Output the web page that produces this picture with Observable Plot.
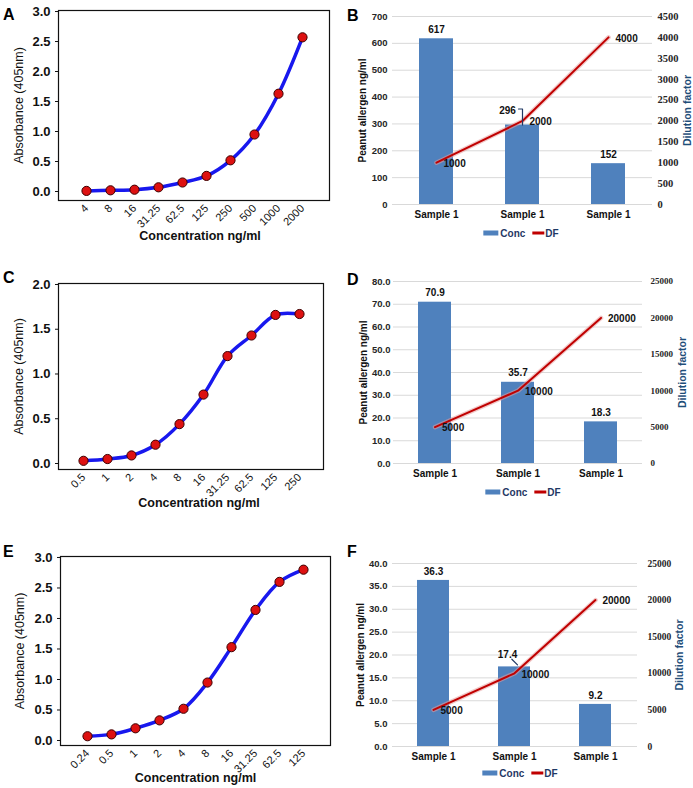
<!DOCTYPE html>
<html><head><meta charset="utf-8">
<script src="https://cdn.jsdelivr.net/npm/d3@7"></script>
<script src="https://cdn.jsdelivr.net/npm/@observablehq/plot@0.6"></script>
<style>
body{margin:0;background:#fff}
#fig{position:relative;width:693px;height:788px;overflow:hidden;background:#fff;font-family:'Liberation Sans',Arial,sans-serif}
#fig svg{position:absolute;overflow:visible}
.tag{position:absolute;font-weight:bold;font-size:16px;line-height:16px;color:#000}
.legend{position:absolute;transform:translate(-50%,-50%);display:flex;align-items:center;font-weight:bold;font-size:10px;color:#1f3864;white-space:nowrap}
.legend .sw{display:inline-block;width:15px;height:5px;background:#4f81bd;margin-right:2px}
.legend .ln{display:inline-block;width:12px;height:2.5px;background:#c00000;margin-left:7px;margin-right:1px}
</style></head><body><div id="fig"></div>
<script>
// ---------- data ----------
const concA = ["4","8","16","31.25","62.5","125","250","500","1000","2000"];
const absA  = [0.01,0.02,0.03,0.07,0.15,0.26,0.52,0.95,1.63,2.57];
const concC = ["0.5","1","2","4","8","16","31.25","62.5","125","250"];
const absC  = [0.03,0.05,0.09,0.21,0.44,0.77,1.20,1.43,1.66,1.67];
const concE = ["0.24","0.5","1","2","4","8","16","31.25","62.5","125"];
const absE  = [0.07,0.10,0.20,0.33,0.52,0.95,1.53,2.14,2.60,2.80];
const yTicksA = [0,0.5,1,1.5,2,2.5,3];
const yTicksC = [0,0.5,1,1.5,2];
const yTicksE = [0,0.5,1,1.5,2,2.5,3];

const samples = ["Sample 1","Sample 1","Sample 1"];
const concB = [617,296,152];
const dfB   = [1000,2000,4000];
const concD = [70.9,35.7,18.3];
const dfD   = [5000,10000,20000];
const concF = [36.3,17.4,9.2];
const dfF   = [5000,10000,20000];
const leftTicksB  = [0,100,200,300,400,500,600,700];
const rightTicksB = [0,500,1000,1500,2000,2500,3000,3500,4000,4500];
const leftTicksD  = [0,10,20,30,40,50,60,70,80];
const rightTicksD = [0,5000,10000,15000,20000,25000];
const leftTicksF  = [0,5,10,15,20,25,30,35,40];
const rightTicksF = [0,5000,10000,15000,20000,25000];

// ---------- helpers ----------
const fig = document.getElementById("fig");
const SANS = "'Liberation Sans', Arial, Helvetica, sans-serif";
const SERIF = "'Liberation Serif', 'Times New Roman', serif";

function place(el, left, top){ el.style.left = left+"px"; el.style.top = top+"px"; fig.appendChild(el); }
function tag(t, left, top){ const d=document.createElement("div"); d.className="tag"; d.textContent=t; place(d,left,top); }
function legend(cx, cy){
  const d=document.createElement("div"); d.className="legend";
  d.innerHTML='<span class="sw"></span><span>Conc</span><span class="ln"></span><span>DF</span>';
  place(d,cx,cy);
}

function curvePanel(o){
  const data = o.labels.map((c,i)=>({c, v:o.values[i]}));
  const svg = Plot.plot({
    width:o.width, height:o.height,
    marginLeft:o.mL, marginRight:o.mR, marginTop:o.mT, marginBottom:o.mB,
    style:{fontFamily:SANS, fontSize:"11px", color:"#111", background:"transparent"},
    x:{type:"point", domain:o.labels, padding:1},
    y:{domain:o.yDomain},
    marks:[
      Plot.axisY({ticks:o.yTicks, tickFormat:d3.format(".1f"), tickSize:3, tickPadding:5, fontSize:13, fontWeight:"bold",
        label:"Absorbance (405nm)", labelAnchor:"center", labelArrow:"none", labelOffset:o.yLabOff}),
      Plot.axisX({tickRotate:-45, tickSize:0, tickPadding:6, fontSize:11,
        label:"Concentration ng/ml", labelAnchor:"center", labelArrow:"none", labelOffset:o.xLabOff}),
      Plot.frame({stroke:"#111", strokeWidth:1.2}),
      Plot.line(data,{x:"c", y:"v", stroke:"#1818ee", strokeWidth:3.5, curve:"catmull-rom"}),
      Plot.dot(data,{x:"c", y:"v", r:4.6, fill:"#dd1111", stroke:"#3d0000", strokeWidth:1})
    ]
  });
  d3.select(svg).selectAll('g[aria-label="y-axis label"] text').attr("font-size",12.5).attr("font-weight","normal");
  d3.select(svg).selectAll('g[aria-label="x-axis label"] text').attr("font-size",12.5).attr("font-weight","bold").attr("dx",o.xLabDx);
  place(svg, o.left, o.top);
}

function barPanel(o){
  const yMax = o.leftTicks[o.leftTicks.length-1];
  const rMax = o.rightTicks[o.rightTicks.length-1];
  const k = yMax / rMax;
  const data = o.conc.map((v,i)=>({i, v, d:o.df[i]*k, dv:o.df[i]}));
  const plain = data.filter(d=>!(d.i in o.nudge));
  const marks = [
    Plot.gridY({ticks:o.leftTicks, stroke:"#d9d9d9", strokeOpacity:1, strokeWidth:1}),
    Plot.axisY({ticks:o.leftTicks, tickFormat:o.fmt, tickSize:0, tickPadding:o.lPad, fontSize:9.5, fontWeight:"bold", fill:"#262626",
      label:"Peanut allergen ng/ml", labelAnchor:"center", labelArrow:"none", labelOffset:o.lOff}),
    Plot.axisY({anchor:"right", ticks:o.rightTicks.map(t=>t*k), tickFormat:t=>String(Math.round(t/k)), tickSize:0, tickPadding:o.rPad,
      fontSize:o.rFont, fontWeight:"bold", fontFamily:SERIF, fill:"#262626",
      label:"Dilution factor", labelAnchor:"center", labelArrow:"none", labelOffset:o.rOff}),
    Plot.axisX({tickFormat:i=>samples[i], tickSize:0, tickPadding:o.xPad, fontSize:10, fontWeight:"bold", fill:"#111", label:null}),
    Plot.barY(data,{x:"i", y:"v", fill:"#4f81bd"}),
    Plot.line(data,{x:"i", y:"d", stroke:"#e59a9a", strokeWidth:4.5, strokeOpacity:0.55}),
    Plot.line(data,{x:"i", y:"d", stroke:"#c00000", strokeWidth:2}),
    Plot.text(plain,{x:"i", y:"v", text:d=>o.fmt(d.v), dy:-9, fontSize:10, fontWeight:"bold", fill:"#111"}),
    Plot.text(data,{x:"i", y:"d", text:d=>String(d.dv), textAnchor:"start", dx:7, dy:1, fontSize:10, fontWeight:"bold", fill:"#111"})
  ];
  for (const key of Object.keys(o.nudge)){
    const n = o.nudge[key];
    const sel = data.filter(d=>d.i===+key);
    marks.push(Plot.text(sel,{x:"i", y:"v", text:d=>o.fmt(d.v), dx:n.dx, dy:n.dy, fontSize:10, fontWeight:"bold", fill:"#111"}));
    marks.push(Plot.vector(sel,{x:"i", y:"v", length:n.len, rotate:n.rot, anchor:"start", dx:n.ldx||0, dy:n.ldy||0,
      shape:{draw(ctx,l){ ctx.moveTo(0,0); ctx.lineTo(0,-l); if(n.hook) ctx.lineTo(-n.hook,-l); }},
      stroke:"#1f3864", strokeWidth:1.2, fill:"none"}));
  }
  const svg = Plot.plot({
    width:o.width, height:o.height,
    marginLeft:o.mL, marginRight:o.mR, marginTop:o.mT, marginBottom:o.mB,
    style:{fontFamily:SANS, fontSize:"10px", color:"#111", background:"transparent"},
    x:{type:"band", domain:d3.range(o.conc.length), paddingInner:0.6, paddingOuter:0.3},
    y:{domain:[0,yMax]},
    marks
  });
  const labs = d3.select(svg).selectAll('g[aria-label="y-axis label"] text').nodes();
  if (labs[0]) d3.select(labs[0]).attr("font-size",10).attr("font-weight","bold").attr("fill","#111");
  if (labs[1]) d3.select(labs[1]).attr("font-size",10.5).attr("font-weight","bold").attr("font-family",SANS).attr("fill","#1f4e79");
  place(svg, o.left, o.top);
}

// ---------- panels ----------
curvePanel({left:0, top:0, width:340, height:248, mL:58, mR:11, mT:10, mB:48,
  labels:concA, values:absA, yTicks:yTicksA, yDomain:[-0.15,3.017], yLabOff:44, xLabOff:39, xLabDx:6});
curvePanel({left:0, top:270, width:340, height:242, mL:58, mR:17, mT:13, mB:43,
  labels:concC, values:absC, yTicks:yTicksC, yDomain:[-0.067,2.011], yLabOff:44, xLabOff:37, xLabDx:8});
curvePanel({left:0, top:545, width:340, height:243, mL:60, mR:10, mT:11, mB:43,
  labels:concE, values:absE, yTicks:yTicksE, yDomain:[-0.082,3.016], yLabOff:45, xLabOff:36, xLabDx:0});

barPanel({left:340, top:0, width:353, height:225, mL:52, mR:41, mT:16, mB:21,
  conc:concB, df:dfB, leftTicks:leftTicksB, rightTicks:rightTicksB, fmt:d=>String(d),
  lPad:5, rPad:5, rFont:10.5, lOff:34, rOff:38, xPad:6,
  nudge:{1:{dx:-15, dy:-14.5, len:16, rot:0, hook:4}}});
barPanel({left:340, top:270, width:353, height:215, mL:53, mR:51, mT:11, mB:22,
  conc:concD, df:dfD, leftTicks:leftTicksD, rightTicks:rightTicksD, fmt:d=>d.toFixed(1),
  lPad:3, rPad:8, rFont:9, lOff:34, rOff:43, xPad:6, nudge:{}});
barPanel({left:340, top:545, width:353, height:220, mL:52, mR:56, mT:18, mB:19,
  conc:concF, df:dfF, leftTicks:leftTicksF, rightTicks:rightTicksF, fmt:d=>d.toFixed(1),
  lPad:5, rPad:10, rFont:9.5, lOff:36, rOff:45, xPad:6,
  nudge:{1:{dx:-7, dy:-12, len:8, rot:-45, ldx:3, ldy:-2}}});

legend(521,233); legend(523,492); legend(520,773);
tag("A",3,7); tag("B",347,8); tag("C",3,270); tag("D",347,272); tag("E",3,544); tag("F",347,544);
</script></body></html>
